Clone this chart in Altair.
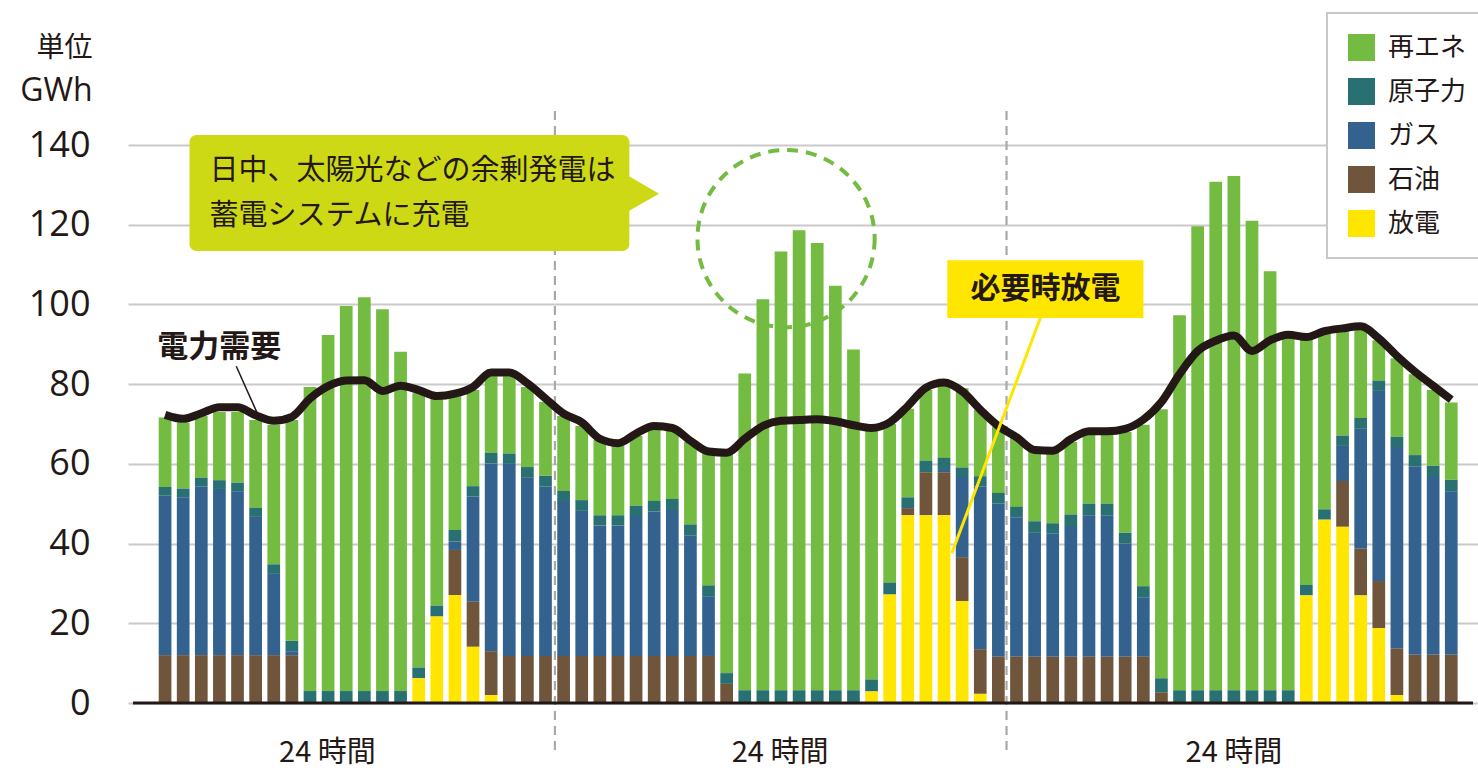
import altair as alt
import pandas as pd

# ---------------- data (GWh per hour, 72 hourly bars) ----------------
renew = [17.4, 16.6, 15.5, 17.1, 17.7, 22.0, 35.0, 55.4, 76.3, 89.3, 96.6, 98.8,
         95.8, 85.1, 68.8, 52.1, 33.6, 24.1, 19.2, 19.4, 20.1, 18.5, 18.8, 18.6,
         18.9, 17.7, 17.5, 18.1, 17.3, 20.7, 33.7, 55.2, 79.5, 98.1, 110.1, 115.4,
         112.2, 101.5, 85.5, 63.1, 39.8, 22.2, 17.7, 18.7, 19.9, 16.7, 16.6, 17.3,
         17.7, 17.9, 18.2, 17.5, 17.6, 25.3, 40.5, 67.5, 94.1, 116.4, 127.6, 129.0,
         117.8, 105.1, 88.8, 61.9, 44.4, 26.9, 23.0, 10.1, 19.7, 20.3, 19.0, 19.4]
nuclear = [2.2, 2.2, 2.1, 2.2, 2.2, 2.3, 2.4, 2.6, 3.0, 3.0, 3.0, 3.0,
           3.0, 3.0, 2.7, 2.7, 2.9, 2.6, 2.7, 2.6, 2.7, 2.7, 2.8, 2.7,
           2.6, 2.6, 2.6, 2.7, 2.8, 2.8, 2.7, 2.7, 3.2, 3.2, 3.2, 3.2,
           3.2, 3.2, 3.2, 3.0, 3.0, 2.7, 2.9, 2.8, 2.4, 2.5, 2.7, 2.6,
           2.9, 2.6, 2.9, 2.9, 2.9, 2.7, 2.9, 3.5, 3.2, 3.2, 3.2, 3.2,
           3.2, 3.2, 3.2, 2.6, 2.6, 2.6, 2.7, 2.6, 2.6, 2.8, 2.8, 2.9]
gas = [40.0, 39.6, 42.4, 41.7, 41.1, 34.7, 20.4, 1.0, 0, 0, 0, 0,
       0, 0, 0, 0, 2.1, 26.4, 47.1, 48.2, 44.7, 42.5, 38.6, 36.4,
       32.7, 32.7, 35.1, 36.2, 36.6, 30.2, 15.0, 0, 0, 0, 0, 0,
       0, 0, 0, 0, 0, 0, 0, 0.8, 20.1, 40.9, 38.4, 35.0,
       31.1, 30.9, 32.8, 35.5, 35.5, 28.4, 14.8, 0, 0, 0, 0, 0,
       0, 0, 0, 0, 0, 8.8, 30.1, 47.7, 50.5, 47.3, 44.6, 41.0]
oil = [12.0, 12.0, 12.0, 12.0, 12.0, 12.0, 12.0, 12.0, 0, 0, 0, 0,
       0, 0, 0, 0, 11.3, 11.3, 11.0, 11.8, 11.8, 11.8, 11.8, 11.8,
       11.8, 11.8, 11.8, 11.8, 11.8, 11.8, 11.8, 4.8, 0, 0, 0, 0,
       0, 0, 0, 0, 0, 1.8, 10.8, 10.8, 11.0, 11.2, 11.6, 11.6,
       11.6, 11.6, 11.6, 11.6, 11.6, 11.6, 11.6, 2.7, 0, 0, 0, 0,
       0, 0, 0, 0, 0, 11.5, 11.7, 11.8, 11.7, 12.1, 12.1, 12.1]
discharge = [0, 0, 0, 0, 0, 0, 0, 0, 0, 0, 0, 0,
             0, 0, 6.2, 21.7, 27.1, 14.1, 2.0, 0, 0, 0, 0, 0,
             0, 0, 0, 0, 0, 0, 0, 0, 0, 0, 0, 0,
             0, 0, 0, 2.9, 27.2, 47.1, 47.1, 47.1, 25.6, 2.3, 0, 0,
             0, 0, 0, 0, 0, 0, 0, 0, 0, 0, 0, 0,
             0, 0, 0, 27.0, 46.0, 44.2, 27.0, 18.8, 2.0, 0, 0, 0]
demand = [72.3, 71.3, 72.7, 74.2, 74.2, 72.2, 70.8, 71.8, 76.4, 79.5, 80.9, 81.0,
          78.3, 79.6, 78.5, 77.0, 77.6, 79.3, 82.9, 82.9, 80.2, 76.4, 72.6, 70.4,
          66.3, 65.2, 67.6, 69.5, 69.0, 65.8, 63.1, 62.8, 66.3, 69.5, 70.8, 71.0,
          71.2, 70.7, 69.7, 69.0, 70.4, 74.5, 79.1, 80.4, 78.2, 73.6, 69.5, 66.7,
          63.5, 63.3, 66.2, 68.2, 68.2, 68.8, 71.1, 75.5, 82.5, 88.3, 90.9, 92.2,
          88.3, 91.0, 92.4, 91.8, 93.3, 94.0, 94.5, 91.5, 87.1, 83.1, 79.6, 76.1]

series_names = ["再エネ", "原子力", "ガス", "石油", "放電"]
series_colors = ["#73bb41", "#287072", "#34628f", "#6e553b", "#ffe600"]
series_values = [renew, nuclear, gas, oil, discharge]
stack_order = [4, 3, 2, 1, 0]  # discharge at the bottom

y_ticks = [0, 20, 40, 60, 80, 100, 120, 140]
day_labels = ["24 時間", "24 時間", "24 時間"]
day_label_x = [8.96, 33.95, 59.0]
divider_x = [21.52, 46.45]

TXT = "#231815"
JP = "Noto Sans CJK JP"

rows = []
for name, vals, o in zip(series_names, series_values, stack_order):
    for i, v in enumerate(vals):
        rows.append({"idx": i, "source": name, "value": v, "ord": o})
bars_df = pd.DataFrame(rows)
demand_df = pd.DataFrame({"idx": list(range(len(demand))), "demand": demand})

XS = alt.Scale(domain=[-1.77, 72.2], nice=False, zero=False)
YS = alt.Scale(domain=[0, 140], nice=False)
YAX = alt.Axis(values=y_ticks, title=None, grid=True, gridColor="#cacaca",
               gridWidth=2, domain=False, ticks=False, labelFontSize=36,
               labelFont="Open Sans", labelColor=TXT, labelPadding=38)


def X(field="x"):
    return alt.X(f"{field}:Q", scale=XS, axis=None)


def Y(field="y"):
    return alt.Y(f"{field}:Q", scale=YS, axis=YAX, title=None)


bars = alt.Chart(bars_df).mark_bar(size=12.7).encode(
    x=X("idx"),
    y=alt.Y("value:Q", stack="zero", scale=YS, axis=YAX, title=None),
    color=alt.Color("source:N",
                    scale=alt.Scale(domain=series_names, range=series_colors),
                    legend=alt.Legend(orient="none", legendX=1199, legendY=-132,
                                      title=None, symbolType="square",
                                      symbolSize=729, symbolStrokeWidth=0,
                                      labelFontSize=26, labelFont=JP,
                                      labelColor=TXT, rowPadding=17,
                                      labelOffset=13, padding=21,
                                      strokeColor="#c8c8c8", fillColor="white")),
    order=alt.Order("ord:Q", sort="ascending"),
)

div_df = pd.DataFrame({"x": divider_x, "y": [-11.8] * 2, "y2": [149.0] * 2})
dividers = alt.Chart(div_df).mark_rule(color="#a9a9a9", strokeWidth=2.2,
                                       strokeDash=[9, 6]).encode(
    x=X(), y=Y(), y2="y2:Q")

base_df = pd.DataFrame({"x": [-1.77], "x2": [72.2], "y": [0]})
baseline = alt.Chart(base_df).mark_rule(color=TXT, strokeWidth=3).encode(
    x=X(), x2="x2:Q", y=Y())

line = alt.Chart(demand_df).mark_line(color=TXT, strokeWidth=8,
                                      interpolate="monotone").encode(
    x=X("idx"), y=Y("demand"))

# 電力需要 label and leader
dl_df = pd.DataFrame({"x": [2.99], "y": [89.1], "t": ["電力需要"]})
dlabel = alt.Chart(dl_df).mark_text(font=JP, fontSize=31, fontWeight="bold",
                                    color=TXT, align="center",
                                    baseline="middle").encode(
    x=X(), y=Y(), text="t:N")
dlead_df = pd.DataFrame({"x": [3.93], "y": [84.5], "x2": [5.08], "y2": [72.8]})
dlead = alt.Chart(dlead_df).mark_rule(color=TXT, strokeWidth=1.5).encode(
    x=X(), y=Y(), x2="x2:Q", y2="y2:Q")

# Bubble
BUB = "#cdd915"
bub_df = pd.DataFrame({"x": [1.35], "x2": [25.63], "y": [142.5], "y2": [113.4]})
bubble = alt.Chart(bub_df).mark_rect(color=BUB, cornerRadius=7).encode(
    x=X(), x2="x2:Q", y=Y(), y2="y2:Q")
tri_df = pd.DataFrame({"x": [25.5, 27.27], "y": [132.5, 127.8], "y2": [123.2, 127.8]})
tri = alt.Chart(tri_df).mark_area(color=BUB, orient="vertical").encode(
    x=X(), y=Y(), y2="y2:Q")
bt_df = pd.DataFrame({"x": [2.45, 2.45], "y": [133.5, 122.2],
                      "t": ["日中、太陽光などの余剰発電は", "蓄電システムに充電"]})
btext = alt.Chart(bt_df).mark_text(font=JP, fontSize=29, color=TXT,
                                   align="left", baseline="middle").encode(
    x=X(), y=Y(), text="t:N")

# dashed circle
circ_df = pd.DataFrame({"x": [34.28], "y": [116.5]})
circle = alt.Chart(circ_df).mark_point(shape="circle", size=31400, filled=False,
                                       color="#73bb41", strokeWidth=4,
                                       strokeDash=[11, 8], opacity=1).encode(
    x=X(), y=Y())

# 必要時放電
ylead_df = pd.DataFrame({"x": [48.36], "y": [97.1], "x2": [43.43], "y2": [37.6]})
ylead = alt.Chart(ylead_df).mark_rule(color="#ffe600", strokeWidth=3).encode(
    x=X(), y=Y(), x2="x2:Q", y2="y2:Q")
ybox_df = pd.DataFrame({"x": [43.18], "x2": [54.01], "y": [111.1], "y2": [96.6]})
ybox = alt.Chart(ybox_df).mark_rect(color="#ffe600").encode(
    x=X(), x2="x2:Q", y=Y(), y2="y2:Q")
yt_df = pd.DataFrame({"x": [48.6], "y": [103.9], "t": ["必要時放電"]})
ytext = alt.Chart(yt_df).mark_text(font=JP, fontSize=30, fontWeight="bold",
                                   color=TXT, align="center",
                                   baseline="middle").encode(
    x=X(), y=Y(), text="t:N")

# bottom day labels
day_df = pd.DataFrame({"x": day_label_x, "y": [-12.6] * 3, "t": day_labels})
days = alt.Chart(day_df).mark_text(font=JP, fontSize=29, color=TXT,
                                   align="center", baseline="middle").encode(
    x=X(), y=Y(), text="t:N")

# unit label
u1 = alt.Chart(pd.DataFrame({"x": [-4.0], "y": [164.2], "t": ["単位"]})).mark_text(
    font=JP, fontSize=28, color=TXT, align="right", baseline="middle").encode(
    x=X(), y=Y(), text="t:N")
u2 = alt.Chart(pd.DataFrame({"x": [-4.0], "y": [153.6], "t": ["GWh"]})).mark_text(
    font="Open Sans", fontSize=32, color=TXT, align="right", baseline="middle").encode(
    x=X(), y=Y(), text="t:N")

chart = alt.layer(
    bars, dividers, baseline, line, dlead, dlabel, bubble, tri, btext, circle,
    ylead, ybox, ytext, days, u1, u2
).properties(
    width=1350, height=558,
    autosize=alt.AutoSizeParams(type="none"),
    padding={"left": 128, "top": 145, "right": 0, "bottom": 68},
    background="white",
).configure_view(stroke=None).configure_legend(strokeWidth=2)

chart.save("out.html", embed_options={"renderer": "svg", "actions": False})
